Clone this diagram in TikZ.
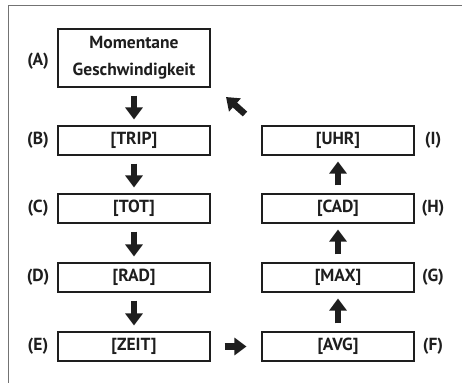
\documentclass[tikz,border=0pt]{standalone}
\usepackage{fontspec}
\setmainfont{PT Sans}
\usetikzlibrary{arrows.meta}
\definecolor{ink}{HTML}{1E1E1E}
\tikzset{
  box/.style={draw=ink, line width=1.1pt, minimum width=152pt, minimum height=29pt, inner sep=0pt, font=\bfseries\fontsize{17.5}{27}\selectfont, text=ink, anchor=center},
  lab/.style={font=\bfseries\fontsize{17.5}{21}\selectfont, text=ink, inner sep=0pt},
  blk/.style={line width=6.5pt, draw=ink, -{Triangle[width=17pt,length=12pt]}, shorten <=8pt, shorten >=6pt},
}
\begin{document}
\begin{tikzpicture}[x=1pt,y=-1pt]
\useasboundingbox (0,0) rectangle (462,383);
\fill[white] (0,0) rectangle (462,383);
\draw[black!55, line width=1pt] (462,5.5) -- (8.5,5.5) -- (8.5,383);
% left column
\node[box, minimum height=58pt, align=center] (A) at (134,58) {Momentane\\Geschwindigkeit};
\node[box] (B) at (134,140.5) {[TRIP]};
\node[box] (C) at (134,208.5) {[TOT]};
\node[box] (D) at (134,277.5) {[RAD]};
\node[box] (E) at (134,346.5) {[ZEIT]};
% right column
\node[box] (I) at (338,140.5) {[UHR]};
\node[box] (H) at (338,208.5) {[CAD]};
\node[box] (G) at (338,277.5) {[MAX]};
\node[box] (F) at (338,346.5) {[AVG]};
% labels
\node[lab] (lA) at (38,61) {(A)};
\node[lab] (lB) at (38,140.5) {(B)};
\node[lab] (lC) at (38,208.5) {(C)};
\node[lab] (lD) at (38,277.5) {(D)};
\node[lab] (lE) at (38,346.5) {(E)};
\node[lab] (lI) at (433,140.5) {(I)};
\node[lab] (lH) at (433,208.5) {(H)};
\node[lab] (lG) at (433,277.5) {(G)};
\node[lab] (lF) at (433,346.5) {(F)};
% arrows
\draw[blk] (A) -- (B);
\draw[blk] (B) -- (C);
\draw[blk] (C) -- (D);
\draw[blk] (D) -- (E);
\draw[blk, shorten <=14pt, shorten >=15pt] (E) -- (F);
\draw[blk] (F) -- (G);
\draw[blk] (G) -- (H);
\draw[blk] (H) -- (I);
\coordinate (r1) at (245,114);
\coordinate (r2) at (226,97);
\draw[blk, shorten <=0pt, shorten >=0pt] (r1) -- (r2);
\end{tikzpicture}
\end{document}
